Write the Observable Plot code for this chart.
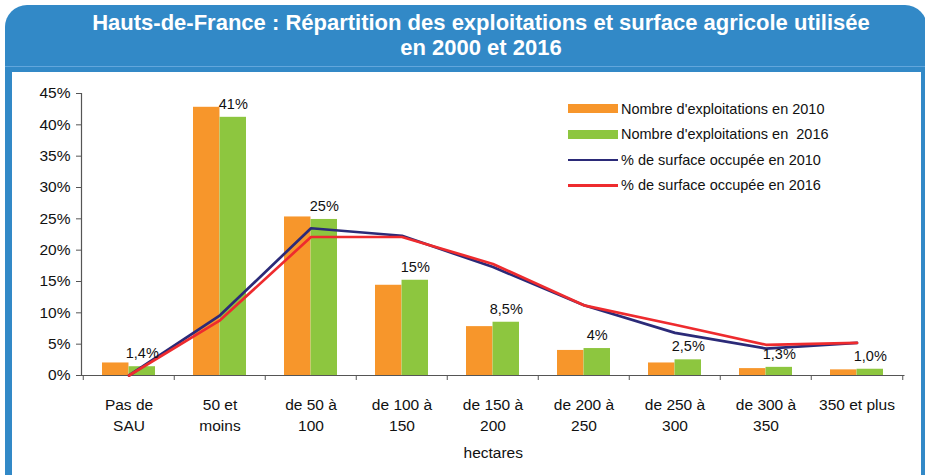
<!DOCTYPE html>
<html>
<head>
<meta charset="utf-8">
<script src="https://cdn.jsdelivr.net/npm/d3@7"></script>
<script src="https://cdn.jsdelivr.net/npm/@observablehq/plot@0.6"></script>
<style>
  html, body { margin: 0; padding: 0; background: #fff; }
  body { width: 925px; height: 475px; overflow: hidden; position: relative; font-family: "Liberation Sans", Arial, sans-serif; }
  #frame { position: absolute; left: 5px; top: 5px; width: 922px; height: 480px; background: #3289c7; border-radius: 22px 22px 0 0; }
  #title { position: absolute; left: 0; top: 10px; width: 962px; text-align: center; color: #fff; font-weight: bold; font-size: 22px; line-height: 25px; }
  #sep { position: absolute; left: 5px; top: 66px; width: 922px; height: 1px; background: #62a6dc; }
  #panel { position: absolute; left: 12px; top: 72px; width: 909px; height: 410px; background: #fff; }
  #legend { position: absolute; left: 556px; top: 24px; font-size: 14.5px; color: #111; }
  .row { position: relative; height: 25.5px; display: flex; align-items: center; }
  .sw { width: 50px; margin-right: 3px; }
</style>
</head>
<body>
<div id="frame"></div>
<div id="sep"></div>
<div id="title">Hauts-de-France : Répartition des exploitations et surface agricole utilisée<br>en 2000 et 2016</div>
<div id="panel"><div id="chart"></div><div id="legend"></div></div>
<script>
const categories = ["Pas de SAU","50 et moins","de 50 à 100","de 100 à 150","de 150 à 200","de 200 à 250","de 250 à 300","de 300 à 350","350 et plus"];
const tickLabels = ["Pas de\nSAU","50 et\nmoins","de 50 à\n100","de 100 à\n150","de 150 à\n200","de 200 à\n250","de 250 à\n300","de 300 à\n350","350 et plus"];
const exploit2010 = [2.0, 42.8, 25.3, 14.4, 7.8, 4.0, 2.0, 1.1, 0.9];
const exploit2016 = [1.4, 41.2, 24.9, 15.2, 8.5, 4.3, 2.5, 1.3, 1.0];
const surface2010 = [0, 9.6, 23.5, 22.3, 17.3, 11.2, 6.8, 4.3, 5.2];
const surface2016 = [0, 8.8, 22.1, 22.1, 17.8, 11.2, 8.1, 4.9, 5.2];
const labels2016 = ["1,4%","41%","25%","15%","8,5%","4%","2,5%","1,3%","1,0%"];
const yTicks = [0, 5, 10, 15, 20, 25, 30, 35, 40, 45];
const seriesNames = ["Nombre d'exploitations en 2010", "Nombre d'exploitations en  2016", "% de surface occupée en 2010", "% de surface occupée en 2016"];
const colors = ["#f7962b", "#8dc63f", "#2b2a78", "#ee2b2e"];

const rows = categories.map((c, i) => ({cat: c, e2010: exploit2010[i], e2016: exploit2016[i], s2010: surface2010[i], s2016: surface2016[i], label: labels2016[i]}));

const W = 909, H = 403, ML = 69, MR = 16.5, MT = 21, MB = 100;
const padInner = 0.42, padOuter = 0.21;
const step = (W - ML - MR) / categories.length;
const bw = step * (1 - padInner);

const chart = Plot.plot({
  width: W, height: H,
  marginLeft: ML, marginRight: MR, marginTop: MT, marginBottom: MB,
  style: {fontFamily: "Liberation Sans, Arial, sans-serif", color: "#111", background: "transparent"},
  x: {type: "band", domain: categories, paddingInner: padInner, paddingOuter: padOuter, axis: null},
  y: {domain: [0, 45], axis: null},
  marks: [
    Plot.barY(rows, {x: "cat", y: "e2010", fill: colors[0], insetRight: bw / 2}),
    Plot.barY(rows, {x: "cat", y: "e2016", fill: colors[1], insetLeft: bw / 2}),
    Plot.ruleY([0], {stroke: "#555", strokeWidth: 1.2}),
    Plot.frame({anchor: "left", stroke: "#555", strokeWidth: 1.2}),
    Plot.axisY({ticks: yTicks, tickSize: 5, tickPadding: 6, tickFormat: d => d + "%", fontSize: 15.5, stroke: "#555", label: null}),
    Plot.axisX({tickSize: 0, tickPadding: 19, fontSize: 15.5, lineHeight: 1.38, tickFormat: d => tickLabels[categories.indexOf(d)], label: "hectares", labelAnchor: "center", labelOffset: 82}),
    Plot.axisX({tickSize: 5, text: null, dx: -step / 2, stroke: "#555", label: null}),
    Plot.axisX({ticks: [categories[categories.length - 1]], tickSize: 5, text: null, dx: step / 2, stroke: "#555", label: null}),
    Plot.line(rows, {x: "cat", y: "s2010", stroke: colors[2], strokeWidth: 2.7}),
    Plot.line(rows, {x: "cat", y: "s2016", stroke: colors[3], strokeWidth: 2.7}),
    Plot.text(rows, {x: "cat", y: "e2016", text: "label", dx: bw / 4, dy: -13, fontSize: 14.5, fill: "#111"})
  ]
});
document.getElementById("chart").appendChild(chart);

const legend = document.getElementById("legend");
seriesNames.forEach((name, i) => {
  const row = document.createElement("div");
  row.className = "row";
  const sw = document.createElement("div");
  sw.className = "sw";
  sw.style.background = colors[i];
  sw.style.height = i < 2 ? "9px" : "2.5px";
  const t = document.createElement("span");
  t.textContent = name;
  t.style.whiteSpace = "pre";
  row.appendChild(sw);
  row.appendChild(t);
  legend.appendChild(row);
});
</script>
</body>
</html>
